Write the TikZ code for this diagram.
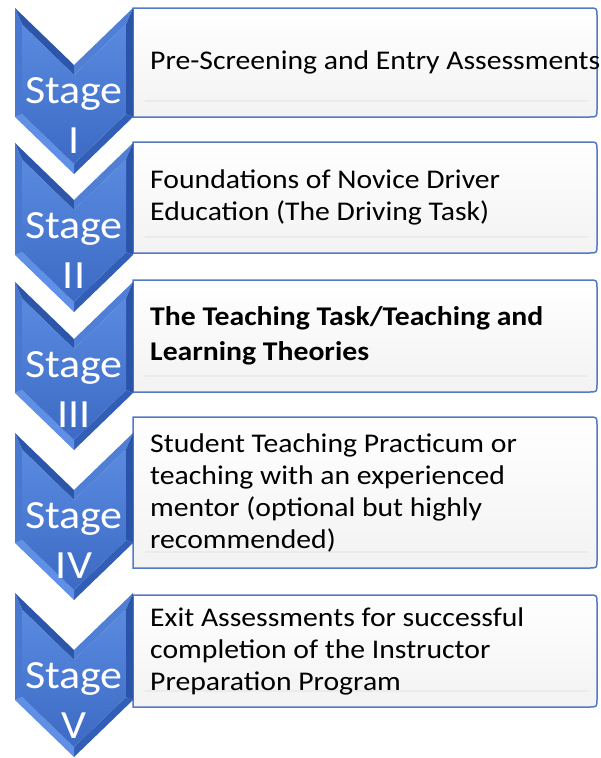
\documentclass[tikz,border=0pt]{standalone}
\usepackage{fontspec}
\setmainfont{Carlito}[FakeStretch=1.1]
\definecolor{bevTL}{RGB}{44,86,170}
\definecolor{bevTR}{RGB}{80,128,214}
\definecolor{bevR}{RGB}{42,84,168}
\definecolor{bevBR}{RGB}{50,94,182}
\definecolor{bevBL}{RGB}{96,144,230}
\definecolor{bevL}{RGB}{72,120,208}
\definecolor{chevtop}{RGB}{90,138,224}
\definecolor{chevbot}{RGB}{60,106,196}
\definecolor{boxline}{RGB}{84,122,196}
\tikzset{
  boxshape/.style={draw=boxline, line width=1.5pt, top color=white, bottom color=black!5},
  stagetxt/.style={text=white, font={\fontsize{40}{48}\selectfont}, inner sep=0pt},
  desctxt/.style={text=black, font={\fontsize{27}{32}\selectfont}, align=left, anchor=west, inner sep=0pt},
}
\begin{document}
\begin{tikzpicture}[x=1pt,y=-1pt]
\useasboundingbox (0,0) rectangle (600,758);
% description boxes
\foreach \t/\b in {8/117,142/253,280/392,417/568,595/707} {
  \draw[boxshape] (133,\t) -- (589,\t) .. controls (597,\t) .. (597,\t+8) -- (597,\b-8) .. controls (597,\b) .. (589,\b) -- (133,\b) -- cycle;
  \draw[black!8, line width=2pt] (145,\b-16) -- (588,\b-16);
}
% chevrons
\foreach \t/\b/\n [count=\i] in {8/117/I,143/255/II,282/393/III,433/543/IV,593/700/V} {
  \fill[bevTL] (15,\t) -- (74,\t+57) -- (74,\t+67) -- (22,\t+16.5) -- cycle;
  \fill[bevTR] (74,\t+57) -- (133,\t) -- (126,\t+16.5) -- (74,\t+67) -- cycle;
  \fill[bevR] (133,\t) -- (133,\b) -- (126,\b-3) -- (126,\t+16.5) -- cycle;
  \fill[bevBR] (133,\b) -- (74,\b+57) -- (74,\b+47) -- (126,\b-3) -- cycle;
  \fill[bevBL] (74,\b+57) -- (15,\b) -- (22,\b-3) -- (74,\b+47) -- cycle;
  \fill[bevL] (15,\b) -- (15,\t) -- (22,\t+16.5) -- (22,\b-3) -- cycle;
  \shade[top color=chevtop, bottom color=chevbot] (22,\t+16.5) -- (74,\t+67) -- (126,\t+16.5) -- (126,\b-3) -- (74,\b+47) -- (22,\b-3) -- cycle;
  \node[stagetxt, anchor=base] (st\i) at (74,\t+95) {Stage};
  \node[stagetxt, anchor=base] (sn\i) at (74,\t+145) {\n};
}
% texts
\node[desctxt] (d1) at (150,62.5) {Pre-Screening and Entry Assessments};
\node[desctxt] (d2) at (150,197.5) {Foundations of Novice Driver\\Education (The Driving Task)};
\node[desctxt, font={\fontsize{27}{35}\selectfont\bfseries}] (d3) at (150,336) {The Teaching Task/Teaching and\\Learning Theories};
\node[desctxt] (d4) at (150,492.5) {Student Teaching Practicum or\\teaching with an experienced\\mentor (optional but highly\\recommended)};
\node[desctxt] (d5) at (150,651) {Exit Assessments for successful\\completion of the Instructor\\Preparation Program};
\end{tikzpicture}
\end{document}
